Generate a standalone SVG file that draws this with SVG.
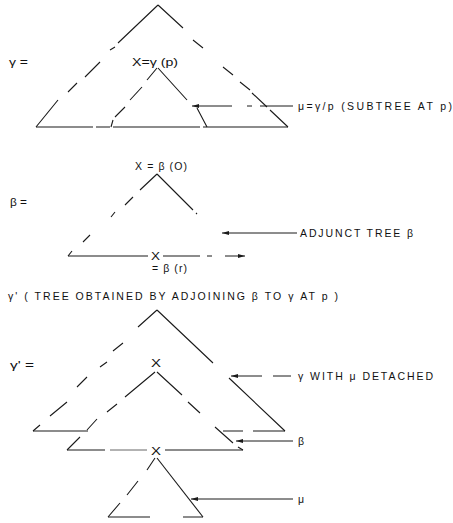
<svg xmlns="http://www.w3.org/2000/svg" width="453" height="523" viewBox="0 0 453 523">
<defs>
<style>
.e{fill:none;stroke:#1a1a1a;stroke-width:1.1;stroke-linecap:butt}
.f{fill:none;stroke:#555;stroke-width:0.9}
.t{font-family:"Liberation Sans","DejaVu Sans",sans-serif;font-size:10.5px;fill:#111}
.a{fill:none;stroke:#1a1a1a;stroke-width:1}
</style>
<marker id="ah" markerUnits="userSpaceOnUse" markerWidth="8" markerHeight="5" refX="7" refY="2" orient="auto-start-reverse">
<path d="M0,0 L7,2 L0,4 z" fill="#1a1a1a"/>
</marker>
</defs>
<rect width="453" height="523" fill="#fff"/>

<g id="tree-gamma">
<text class="t" x="9" y="66" textLength="19" lengthAdjust="spacingAndGlyphs">γ =</text>
<path class="e" d="M158,5 L118,43 M115,47 L110,50 M100,62 L85,77 M77,83 L68,92 M58,100 L36,127"/>
<path class="e" d="M158,5 L183,28 M193,40 L203,48 M223,67 L233,75 M240,82 L250,90 M252,93 L267,107 M270,110 L288,127"/>
<path class="e" d="M36,127 L93,127 M96,127 L110,127 M113,127 L200,127 M203,127 L288,127"/>
</g>

<g id="subtree-mu">
<text class="t" x="132" y="66" textLength="46" lengthAdjust="spacingAndGlyphs">X=γ (p)</text>
<path class="e" d="M157,68 L147,80 M142,87 L130,100 M125,107 L115,117 M113,120 L111,127"/>
<path class="e" d="M158,68 L187,100 M197,108 L207,127"/>
</g>

<g id="tree-beta">
<text class="t" x="10" y="206" textLength="17" lengthAdjust="spacingAndGlyphs">β =</text>
<text class="t" x="135" y="170" textLength="52" lengthAdjust="spacing">X = β (O)</text>
<path class="e" d="M157,174 L140,190 M133,197 L125,205 M115,212 L111,217 M90,235 L83,242 M72,251 L68,256"/>
<path class="e" d="M157,174 L193,210 M196,213 L197,214"/>
<path class="e" d="M68,256 L148,256 M163,256 L200,256 M207,256 L212,256"/>
<text class="t" x="151" y="260" font-size="10" textLength="9" lengthAdjust="spacingAndGlyphs">X</text>
<text class="t" x="152" y="272" font-size="9.5" textLength="35" lengthAdjust="spacing">= β (r)</text>
</g>

<g id="title">
<text class="t" x="8" y="300" font-size="11" textLength="330" lengthAdjust="spacing">γ' ( TREE OBTAINED BY ADJOINING β TO γ AT p )</text>
</g>

<g id="tree-gamma-prime">
<text class="t" x="10" y="369" textLength="24" lengthAdjust="spacingAndGlyphs">γ' =</text>
<path class="e" d="M157,310 L138,327 M123,343 L113,351 M107,362 L100,367 M87,377 L77,387 M67,402 L50,416 M40,425 L33,431"/>
<path class="e" d="M157,310 L213,363 M229,378 L285,431"/>
<path class="e" d="M33,431 L88,431 M223,431 L243,431 M253,431 L285,431"/>
</g>

<g id="tree-beta-in-gamma-prime">
<text class="t" x="151" y="367" font-size="11" textLength="10" lengthAdjust="spacingAndGlyphs">X</text>
<path class="e" d="M155,372 L125,397 M117,404 L107,412 M97,419 L87,430 M80,437 L67,450"/>
<path class="e" d="M157,372 L182,395 M188,402 L200,413 M215,427 L233,443 M238,447 L243,450"/>
<path class="e" d="M67,450 L105,450 M165,450 L243,450"/>
<path class="f" d="M110,450 L147,450"/>
<text class="t" x="151" y="455" font-size="11" textLength="10" lengthAdjust="spacingAndGlyphs">X</text>
</g>

<g id="tree-mu-in-gamma-prime">
<path class="e" d="M155,458 L147,470 M138,481 L127,495 M120,503 L108,517"/>
<path class="e" d="M157,458 L203,517"/>
<path class="e" d="M108,517 L150,517 M183,517 L203,517"/>
</g>

<g id="connectors">
<path class="a" marker-start="url(#ah)" d="M192,106 L232,106 M247,106 L252,106 M260,106 L293,106"/>
<path class="a" marker-start="url(#ah)" d="M222,233 L297,233"/>
<path class="a" marker-end="url(#ah)" d="M225,256 L245,256"/>
<path class="a" marker-start="url(#ah)" d="M231,376 L262,376 M273,376 L291,376"/>
<path class="a" marker-start="url(#ah)" d="M236,441 L293,441"/>
<path class="a" marker-start="url(#ah)" d="M191,499 L293,499"/>
</g>

<g id="labels">
<text class="t" x="298" y="110" textLength="154" lengthAdjust="spacing">μ=γ/p (SUBTREE  AT p)</text>
<text class="t" x="300" y="237" textLength="113" lengthAdjust="spacing">ADJUNCT TREE β</text>
<text class="t" x="298" y="380" textLength="135" lengthAdjust="spacing">γ WITH μ DETACHED</text>
<text class="t" x="298" y="445">β</text>
<text class="t" x="298" y="503">μ</text>
</g>
</svg>
